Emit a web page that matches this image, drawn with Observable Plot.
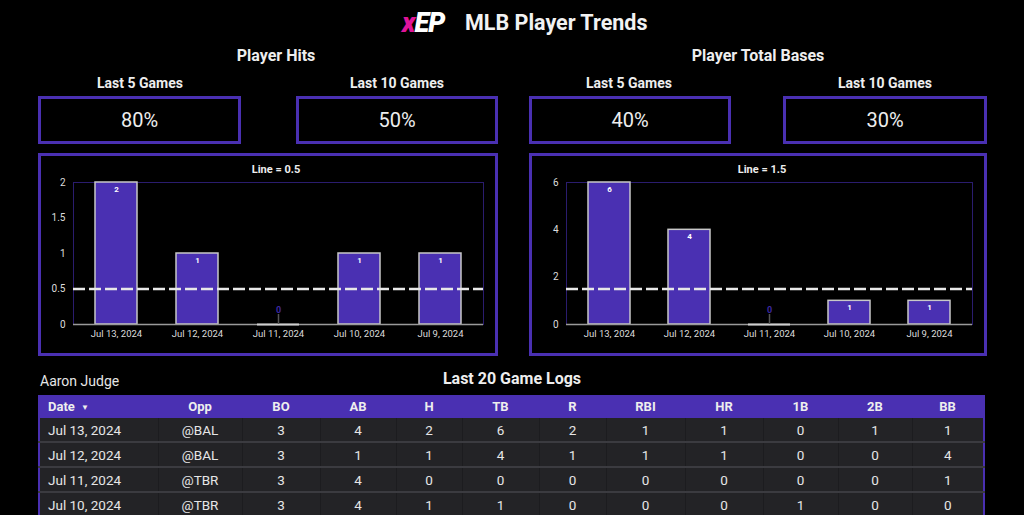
<!DOCTYPE html>
<html><head><meta charset="utf-8">
<script src="https://cdn.jsdelivr.net/npm/d3@7"></script>
<script src="https://cdn.jsdelivr.net/npm/@observablehq/plot@0.6"></script>
<style>
html,body{margin:0;padding:0;background:#000;}
#root{position:relative;width:1024px;height:515px;overflow:hidden;background:#000;font-family:Roboto,"Noto Sans",sans-serif;color:#eee;}
.abs{position:absolute;}
.ctr{transform:translateX(-50%);white-space:nowrap;}
.h2{font-weight:700;font-size:16px;color:#eee;}
.h3{font-weight:700;font-size:14px;color:#eee;}
.box{position:absolute;border:3px solid #4a30b2;box-sizing:border-box;display:flex;align-items:center;justify-content:center;font-size:20px;color:#eee;}
.panel{position:absolute;border:3px solid #4a30b2;box-sizing:border-box;}
.lt{font-weight:700;font-size:11px;color:#eee;}
table{border-collapse:collapse;table-layout:fixed;position:absolute;left:38px;top:395px;border-left:2px solid #4a30b2;border-right:2px solid #4a30b2;}
th{background:#4a30b2;color:#eee;font-weight:700;font-size:13px;height:23px;padding:0;text-align:center;}
td{background:#232326;color:#e6e6e6;font-size:13.5px;height:23px;padding:0;text-align:center;border-bottom:2px solid #3b3b40;border-left:1px solid #1c1c1f;}
td.d,th.d{text-align:left;padding-left:8px;}
</style></head>
<body><div id="root"></div>
<script>
// ---- data ----
const chartDates = ["Jul 13, 2024","Jul 12, 2024","Jul 11, 2024","Jul 10, 2024","Jul 9, 2024"];
const hits = [2,1,0,1,1];
const totalBases = [6,4,0,1,1];
const hitsLine = 0.5;
const tbLine = 1.5;
const hitsTicks = [0,0.5,1,1.5,2];
const tbTicks = [0,2,4,6];
const hitsPct = ["80%","50%"];
const tbPct = ["40%","30%"];
const columns = ["Date","Opp","BO","AB","H","TB","R","RBI","HR","1B","2B","BB"];
const logDate = ["Jul 13, 2024","Jul 12, 2024","Jul 11, 2024","Jul 10, 2024"];
const logOpp = ["@BAL","@BAL","@TBR","@TBR"];
const logBO = [3,3,3,3];
const logAB = [4,1,4,4];
const logH = [2,1,0,1];
const logTB = [6,4,0,1];
const logR = [2,1,0,0];
const logRBI = [1,1,0,0];
const logHR = [1,1,0,0];
const log1B = [0,0,0,1];
const log2B = [1,0,0,0];
const logBB = [1,4,1,0];
const playerName = "Aaron Judge";

const root = document.getElementById("root");
function el(html){const d=document.createElement("div");d.innerHTML=html;const n=d.firstElementChild;root.appendChild(n);return n;}

// title
el(`<div class="abs" style="left:402px;top:6px;font-size:27px;font-weight:900;font-style:italic;letter-spacing:-1px;line-height:34px;"><span style="color:#e0149a">x</span><span style="color:#fff">EP</span></div>`);
el(`<div class="abs" style="left:465px;top:9px;font-size:21.5px;font-weight:700;color:#f2f2f2;line-height:28px;white-space:nowrap;">MLB Player Trends</div>`);

el(`<div class="abs ctr h2" style="left:276px;top:46px;">Player Hits</div>`);
el(`<div class="abs ctr h2" style="left:758px;top:46px;">Player Total Bases</div>`);
const labels5 = ["Last 5 Games","Last 10 Games"];
[140,397,629,885].forEach((cx,i)=>{
  el(`<div class="abs ctr h3" style="left:${cx}px;top:75px;">${labels5[i%2]}</div>`);
});
const boxes=[[38,203,hitsPct[0]],[296,202,hitsPct[1]],[529,202,tbPct[0]],[783,204,tbPct[1]]];
boxes.forEach(([x,w,v])=>el(`<div class="box" style="left:${x}px;top:96px;width:${w}px;height:48px;">${v}</div>`));

// panels
el(`<div class="panel" style="left:38px;top:153px;width:460px;height:203px;"></div>`);
el(`<div class="panel" style="left:529px;top:153px;width:458px;height:203px;"></div>`);
el(`<div class="abs ctr lt" style="left:276px;top:163px;">Line = ${hitsLine}</div>`);
el(`<div class="abs ctr lt" style="left:762px;top:163px;">Line = ${tbLine}</div>`);

function chart(values, ticks, line, left, width, mLeft, mRight){
  const data = chartDates.map((d,i)=>({date:d, v:values[i]}));
  const zero = data.filter(d=>d.v===0);
  const p = Plot.plot({
    width, height:197, marginLeft:mLeft, marginRight:mRight, marginTop:26, marginBottom:29,
    style:{background:"transparent", color:"#ddd", fontFamily:"Roboto, sans-serif", fontSize:"10px"},
    x:{domain:chartDates, paddingInner:0.476, paddingOuter:0.247, label:null, tickSize:0, tickPadding:6},
    y:{domain:[0,ticks[ticks.length-1]], ticks, label:null, tickSize:0, tickPadding:8, tickFormat:d=>String(d)},
    marks:[
      Plot.frame({stroke:"#2a1c6e"}),
      Plot.barY(data,{x:"date", y:"v", fill:"#4a30b2", stroke:"#c8c8c8", strokeWidth:1.5}),
      Plot.ruleY([0],{stroke:"#9a9a9a", strokeWidth:1.5}),
      Plot.tickY(zero,{x:"date", y:"v", stroke:"#d0d0d0", strokeWidth:2}),
      Plot.ruleX(zero,{x:"date", y1:0, y2:0, insetTop:-10, stroke:"#555", strokeWidth:1.5}),
      Plot.text(zero,{x:"date", y:"v", text:d=>String(d.v), dy:-14, fill:"#3d28a0", fontWeight:"bold", fontSize:9}),
      Plot.text(data.filter(d=>d.v>0),{x:"date", y:"v", text:d=>String(d.v), dy:7, fill:"#fff", fontWeight:"bold", fontSize:8}),
      Plot.ruleY([line],{stroke:"#e8e8e8", strokeWidth:2.5, strokeDasharray:"12,4"})
    ]
  });
  p.style.position="absolute"; p.style.left=left+"px"; p.style.top="156px";
  p.querySelectorAll("g[aria-label='x-axis tick label'] text").forEach(t=>t.setAttribute("font-size","9.5"));
  root.appendChild(p);
}
chart(hits, hitsTicks, hitsLine, 41, 454, 32, 12);
chart(totalBases, tbTicks, tbLine, 533, 451, 33, 12);

// table
el(`<div class="abs" style="left:40px;top:373px;font-size:14px;color:#e6e6e6;">${playerName}</div>`);
el(`<div class="abs ctr h2" style="left:512px;top:369px;">Last 20 Game Logs</div>`);
const widths=[119,84,78,76,66,77,67,79,78,75,74,72];
const cols=[logDate,logOpp,logBO,logAB,logH,logTB,logR,logRBI,logHR,log1B,log2B,logBB];
let html=`<table><colgroup>${widths.map(w=>`<col style="width:${w}px">`).join("")}</colgroup><tr>`;
columns.forEach((c,i)=>{html+= i===0?`<th class="d">${c} <span style="font-size:8px;vertical-align:1px;margin-left:3px">▼</span></th>`:`<th>${c}</th>`;});
html+=`</tr>`;
logDate.forEach((_,r)=>{html+=`<tr>`+cols.map((c,i)=>`<td class="${i===0?'d':''}">${c[r]}</td>`).join("")+`</tr>`;});
html+=`</table>`;
el(html);
</script></body></html>
